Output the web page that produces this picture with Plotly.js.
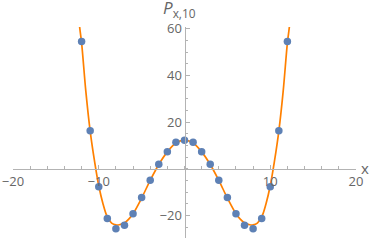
<!DOCTYPE html>
<html>
<head>
<meta charset="utf-8">
<script src="https://cdn.plot.ly/plotly-3.0.1.min.js"></script>
<style>
html,body{margin:0;padding:0;background:#fff;}
#chart{width:374px;height:241px;}
</style>
</head>
<body>
<div id="chart"></div>
<script>
// Discrete values (points)
const pointX = [-12,-11,-10,-9,-8,-7,-6,-5,-4,-3,-2,-1,0,1,2,3,4,5,6,7,8,9,10,11,12];
const pointY = [54.6,16.4,-7.6,-21.2,-25.6,-24.1,-19.2,-12.2,-4.9,2.0,7.4,11.4,12.3,11.4,7.4,2.0,-4.9,-12.2,-19.2,-24.1,-25.6,-21.2,-7.6,16.4,54.6];

// Continuous curve
const curveX = [-12.5,-12.25,-12,-11.5,-11,-10.5,-10,-9.5,-9,-8.5,-8,-7.5,-7,-6.5,-6,-5,-4,-3,-2,-1,0,1,2,3,4,5,6,6.5,7,7.5,8,8.5,9,9.5,10,10.5,11,11.5,12,12.25,12.5];
const curveY = [72,61.5,54,33,16.2,3.5,-7.2,-15,-20.6,-23.2,-24,-23.8,-23.1,-21.5,-19.2,-12.5,-4.9,1.9,7.3,11.1,12.3,11.1,7.3,1.9,-4.9,-12.5,-19.2,-21.5,-23.1,-23.8,-24,-23.2,-20.6,-15,-7.2,3.5,16.2,33,54,61.5,72];

const xTicks = [-20,-10,10,20];
const yTicks = [-20,20,40,60];

const xRange = [-20, 20];
const yRange = [-29.6, 60.8];

const axisColor = '#b3b3b3';
const labelColor = '#666666';

const traces = [
  {x: curveX, y: curveY, type:'scatter', mode:'lines',
   line:{color:'#ff8000', width:1.7, shape:'spline', smoothing:1},
   hoverinfo:'skip'},
  {x: pointX, y: pointY, type:'scatter', mode:'markers',
   marker:{color:'#5e81b5', size:7.5}, cliponaxis:false}
];

const xPos = (0 - yRange[0])/(yRange[1]-yRange[0]);
const yPos = (0 - xRange[0])/(xRange[1]-xRange[0]);

const layout = {
  width:374, height:241,
  margin:{l:13, r:18, t:27, b:3},
  paper_bgcolor:'#fff', plot_bgcolor:'#fff',
  showlegend:false,
  font:{family:'"Open Sans", "DejaVu Sans", sans-serif', size:13, color:labelColor},
  xaxis:{range:xRange, anchor:'free', position:xPos, showgrid:false, zeroline:false,
    showline:true, linecolor:axisColor, linewidth:1,
    tickmode:'array', tickvals:xTicks, ticks:'inside', ticklen:4, tickcolor:axisColor,
    minor:{dtick:2, tick0:0, ticks:'inside', ticklen:2.5, tickcolor:axisColor, showgrid:false},
    tickfont:{size:13, color:labelColor}},
  yaxis:{range:yRange, anchor:'free', position:yPos, showgrid:false, zeroline:false,
    showline:true, linecolor:axisColor, linewidth:1,
    tickmode:'array', tickvals:yTicks, ticks:'inside', ticklen:4, tickcolor:axisColor,
    minor:{dtick:5, tick0:0, ticks:'inside', ticklen:2.5, tickcolor:axisColor, showgrid:false},
    tickfont:{size:13, color:labelColor}},
  annotations:[
    {text:'<i>P</i><sub>x,10</sub>', xref:'paper', yref:'paper',
     x:(162-13)/343, y:(238-22)/211, xanchor:'left', yanchor:'bottom', showarrow:false,
     borderpad:0, font:{size:17, color:labelColor}},
    {text:'x', xref:'paper', yref:'paper',
     x:(360-13)/343, y:(238-168)/211, xanchor:'left', yanchor:'middle', showarrow:false,
     borderpad:0, font:{size:15, color:labelColor}}
  ]
};

Plotly.newPlot('chart', traces, layout, {staticPlot:true, displayModeBar:false});
</script>
</body>
</html>
